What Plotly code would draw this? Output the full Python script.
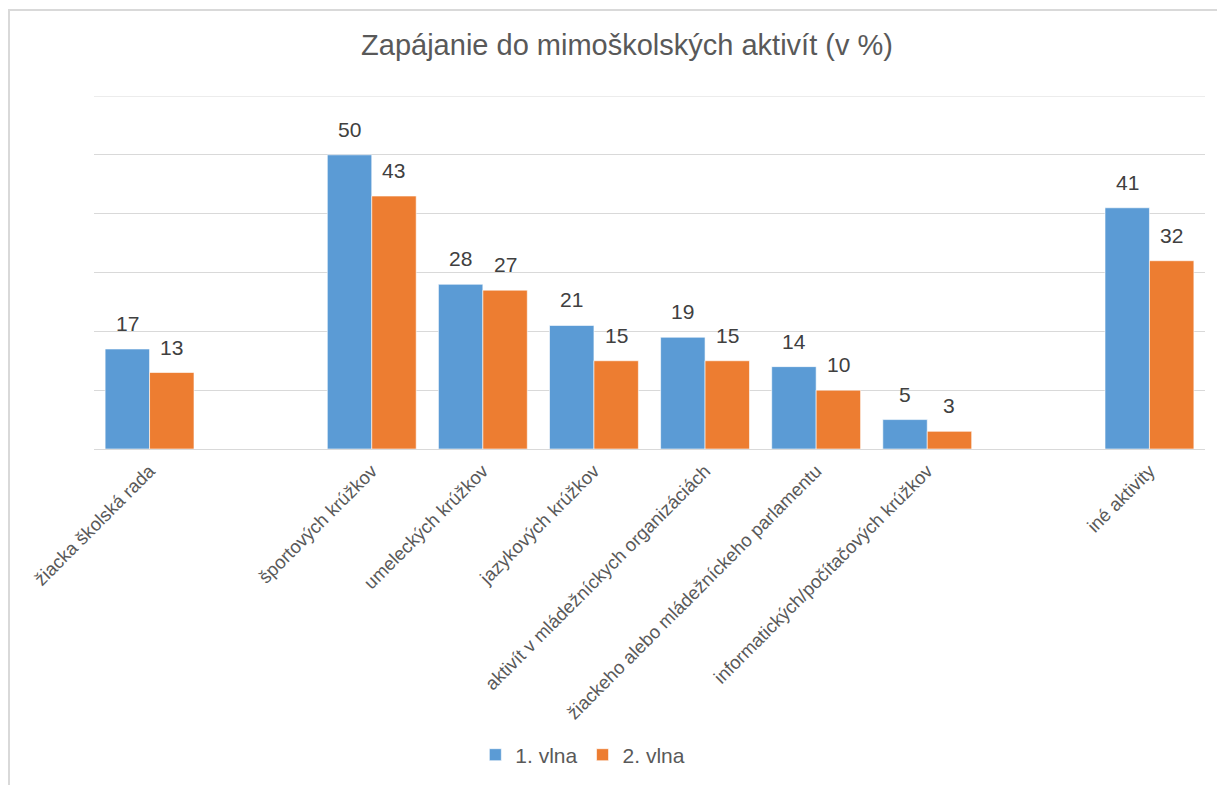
import plotly.graph_objects as go

categories = ["žiacka školská rada", "", "športových krúžkov", "umeleckých krúžkov",
              "jazykových krúžkov", "aktivít v mládežníckych organizáciách",
              "žiackeho alebo mládežníckeho parlamentu",
              "informatických/počítačových krúžkov", "", "iné aktivity"]
wave1 = [17, None, 50, 28, 21, 19, 14, 5, None, 41]
wave2 = [13, None, 43, 27, 15, 15, 10, 3, None, 32]
series_names = ["1. vlna", "2. vlna"]
title = "Zapájanie do mimoškolských aktivít (v %)"
y_max = 60

pos = list(range(len(categories)))
FONT = "Liberation Sans, Arial, sans-serif"
colors = ["#5B9BD5", "#ED7D31"]
offsets = [-0.2, 0.2]

fig = go.Figure()
annotations = []
for name, vals, col, off in zip(series_names, [wave1, wave2], colors, offsets):
    fig.add_trace(go.Bar(
        x=pos, y=vals, name=name,
        marker=dict(color=col, line=dict(color="rgba(255,255,255,0.6)", width=1)),
    ))
    for p, v in zip(pos, vals):
        if v is None:
            continue
        annotations.append(dict(x=p + off, y=v, xref="x", yref="y", text=str(v),
                                showarrow=False, yanchor="bottom", yshift=12,
                                font=dict(size=21, color="#404040", family=FONT)))

fig.update_layout(
    width=1209, height=777,
    paper_bgcolor="white", plot_bgcolor="white",
    margin=dict(l=86, r=12, t=88, b=336, autoexpand=False),
    barmode="group", bargap=0.2, bargroupgap=0,
    font=dict(family=FONT, color="#595959"),
    title=dict(text=title, x=0.512, xanchor="center", y=0.952, yanchor="middle",
               font=dict(size=29, color="#595959", family=FONT)),
    legend=dict(orientation="h", x=0.44, xanchor="center", y=-0.867, yanchor="middle",
                font=dict(size=21, color="#595959", family=FONT), traceorder="normal"),
    xaxis=dict(tickmode="array", tickvals=pos, ticktext=categories, tickangle=-45,
               tickfont=dict(size=18.5, color="#595959", family=FONT), automargin=False,
               ticklabelstandoff=3,
               range=[-0.5, len(categories) - 0.5], showline=True, linecolor="#d9d9d9",
               linewidth=1, showgrid=False, ticks=""),
    yaxis=dict(range=[0, y_max], tickvals=[10, 20, 30, 40, 50], showticklabels=False,
               showgrid=True, automargin=False,
               gridcolor="#d9d9d9", gridwidth=1, zeroline=False, ticks=""),
    annotations=annotations,
    shapes=[
        dict(type="line", xref="paper", yref="y", x0=0, x1=1, y0=y_max, y1=y_max,
             line=dict(color="#d9d9d9", width=1)),
        dict(type="rect", xref="paper", yref="paper", layer="below",
             x0=-0.0765, x1=1.05, y0=-1.1, y1=1.2436,
             line=dict(color="#d9d9d9", width=2), fillcolor="rgba(0,0,0,0)"),
    ],
)
fig.write_html("out.html")
